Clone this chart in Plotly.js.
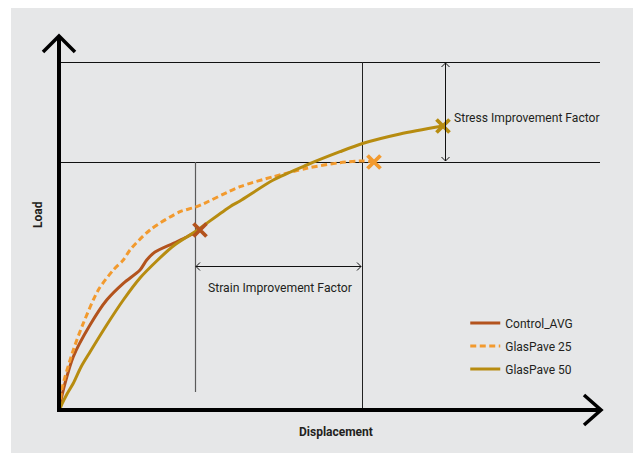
<!DOCTYPE html>
<html>
<head>
<meta charset="utf-8">
<script src="https://cdn.plot.ly/plotly-3.0.1.min.js"></script>
<style>html,body{margin:0;padding:0;background:#fff;}#chart{width:633px;height:453px;}</style>
</head>
<body>
<div id="chart"></div>
<script>
// Series (schematic load vs displacement units)
const seriesNames = ["Control_AVG", "GlasPave 25", "GlasPave 50"];
const ctrlX = [1, 2.7, 14.3, 31, 47.7, 64.3, 81, 87.7, 96, 114.3, 127.7, 136, 141];
const ctrlY = [1, 13.3, 53.3, 85, 110, 126.7, 140, 150, 158, 166.7, 173, 177.3, 180];
const gp25X = [1, 2.7, 14.3, 24.3, 39.3, 54.3, 64.3, 71, 91, 121, 137.7, 181, 214.3, 247.7, 281, 304.3, 315];
const gp25Y = [1, 20, 60, 86.7, 120, 140, 150, 160, 180, 198.3, 203.3, 223.3, 233.3, 241.7, 247.3, 249, 248];
const gp50X = [1, 3, 8, 14.3, 22, 31, 47.7, 64.3, 81, 97.7, 114.3, 136, 171, 181, 214.3, 247.7, 281, 304.3, 341, 384];
const gp50Y = [1, 6, 16, 26.7, 43, 58, 85, 110, 132, 149, 164, 178.3, 203.3, 209, 230, 245, 258.3, 266.7, 276, 284];
const annotationTexts = ["Stress Improvement Factor", "Strain Improvement Factor", "Load", "Displacement"];

const colors = ["#b3531d", "#f29a2e", "#b78c10"];
const FONT = "Roboto, 'DejaVu Sans', sans-serif";
const xs = [ctrlX, gp25X, gp50X], ys = [ctrlY, gp25Y, gp50Y];

const traces = [];
xs.forEach((x, i) => {
  traces.push({
    x: x, y: ys[i], mode: "lines", name: seriesNames[i],
    legendgroup: "g" + i,
    line: {color: colors[i], width: 3, dash: i === 1 ? "6px,3.5px" : "solid", shape: "spline", smoothing: 0.8},
    hoverinfo: "skip"
  });
});
xs.forEach((x, i) => {
  traces.push({
    x: [x[x.length - 1]], y: [ys[i][ys[i].length - 1]], mode: "markers",
    showlegend: false, hoverinfo: "skip",
    marker: {symbol: "x-thin-open", size: 13, line: {color: colors[i], width: 3.8}, color: colors[i]}
  });
});

const blk = "#111";
const shapes = [
  {type: "rect", xref: "x", yref: "y", x0: -48, x1: 580, y0: -50, y1: 402, fillcolor: "#e6e7e8", line: {width: 0}, layer: "below"},
  // reference lines
  {type: "line", xref: "x", yref: "y", x0: 2, x1: 541, y0: 347.5, y1: 347.5, line: {color: blk, width: 1}, layer: "below"},
  {type: "line", xref: "x", yref: "y", x0: 2, x1: 541, y0: 247.5, y1: 247.5, line: {color: blk, width: 1}, layer: "below"},
  {type: "line", xref: "x", yref: "y", x0: 136.5, x1: 136.5, y0: 18, y1: 248, line: {color: "#5a5a5a", width: 1.2}, layer: "below"},
  {type: "line", xref: "x", yref: "y", x0: 303.5, x1: 303.5, y0: 0, y1: 348, line: {color: "#222", width: 1}, layer: "below"},
  // strain arrow
  {type: "path", xref: "x", yref: "y", path: "M137,143.5 L302,143.5 M141,147.5 L137,143.5 L141,139.5 M298,147.5 L302,143.5 L298,139.5", line: {color: blk, width: 1}},
  // stress arrow
  {type: "path", xref: "x", yref: "y", path: "M386.5,249 L386.5,347 M382.5,343 L386.5,347 L390.5,343 M382.5,253 L386.5,249 L390.5,253", line: {color: blk, width: 1}},
  // axes with arrows
  {type: "path", xref: "x", yref: "y", path: "M0,-2 L0,374", line: {color: "#000", width: 4}},
  {type: "path", xref: "x", yref: "y", path: "M-16,358 L0,374 L16,358", line: {color: "#000", width: 3.5}},
  {type: "path", xref: "x", yref: "y", path: "M-2,0 L541,0", line: {color: "#000", width: 4}},
  {type: "path", xref: "x", yref: "y", path: "M525,15 L542,0 L525,-15", line: {color: "#000", width: 3.5}}
];

const annotations = [
  {xref: "x", yref: "y", x: 393, y: 292, text: annotationTexts[0], showarrow: false, xanchor: "left", yanchor: "middle", font: {family: FONT, size: 12.1, color: "#231f20"}},
  {xref: "x", yref: "y", x: 147, y: 122, text: annotationTexts[1], showarrow: false, xanchor: "left", yanchor: "middle", font: {family: FONT, size: 12.2, color: "#231f20"}},
  {xref: "x", yref: "y", x: -21, y: 195, text: "<b>" + annotationTexts[2] + "</b>", showarrow: false, textangle: -90, xanchor: "center", yanchor: "middle", font: {family: FONT, size: 12, color: "#231f20"}},
  {xref: "x", yref: "y", x: 277, y: -22, text: "<b>" + annotationTexts[3] + "</b>", showarrow: false, xanchor: "center", yanchor: "middle", font: {family: FONT, size: 12, color: "#231f20"}}
];

const layout = {
  width: 633, height: 453, autosize: false,
  margin: {l: 0, r: 0, t: 0, b: 0, pad: 0},
  paper_bgcolor: "#ffffff", plot_bgcolor: "#ffffff",
  xaxis: {range: [-59, 574], visible: false, fixedrange: true},
  yaxis: {range: [-43, 410], visible: false, fixedrange: true},
  showlegend: true,
  legend: {x: 0.735, y: 0.319, xanchor: "left", yanchor: "top", bgcolor: "rgba(0,0,0,0)",
    font: {family: FONT, size: 12, color: "#231f20"}, itemwidth: 30, tracegroupgap: 4, traceorder: "grouped"},
  shapes: shapes, annotations: annotations
};

Plotly.newPlot("chart", traces, layout, {staticPlot: true, displayModeBar: false});
</script>
</body>
</html>
